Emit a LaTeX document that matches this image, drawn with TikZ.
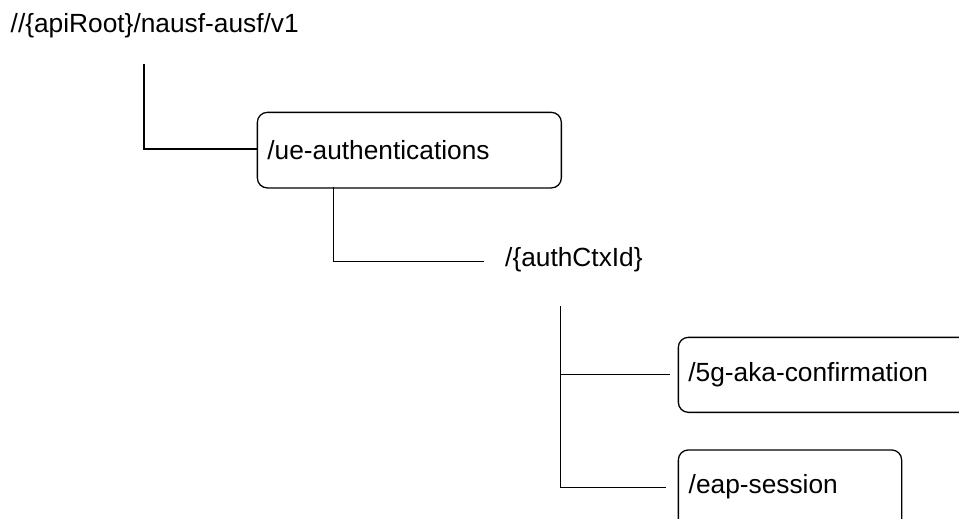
\documentclass[tikz,border=0pt]{standalone}
\usepackage{fontspec}
\setmainfont{Liberation Sans}
\begin{document}
\begin{tikzpicture}[x=1pt,y=-1pt,
  txt/.style={font=\fontsize{26.3}{30}\selectfont, inner sep=0pt, text=black},
  resbox/.style={draw=black, line width=1.3pt, rounded corners=10pt, anchor=north west,
     font=\fontsize{26.3}{30}\selectfont, inner xsep=10pt, inner ysep=0pt, align=left},
  conn/.style={draw=black, line width=1.3pt}]
\path[use as bounding box, clip] (0,0) rectangle (959,519);

\node[txt, anchor=base west] (root) at (10.5,33) {//\{apiRoot\}/nausf-ausf/v1};

\node[resbox, minimum width=304pt, minimum height=75.6pt, text width=284pt] (ue) at (256.7,111.7) {/ue-authentications};

\node[txt, anchor=base west] (ctx) at (505,266) {/\{authCtxId\}};

\node[resbox, minimum width=320pt, minimum height=75pt, text width=300pt] (aka) at (677.7,336.7) {/5g-aka-confirmation};
\node[resbox, minimum width=223.3pt, minimum height=90pt, text width=203pt, anchor=north west] (eap) at (677.7,449.3) {\raisebox{0pt}[0pt][0pt]{}};
\node[txt, anchor=base west] (eaptxt) at (688.5,493) {/eap-session};

\coordinate (r1) at (144,64);
\coordinate (ue1) at (333.3,187.3);
\coordinate (c1) at (560.7,306);

\draw[conn] (r1) |- (ue.west |- 0,149);
\draw[conn] (ue1) |- (484,261.5) coordinate (ctxend);
\draw[conn] (c1) -- (560.7,487.3) -- (666,487.3) coordinate (eapend);
\draw[conn] (560.7,374.3) -- (670,374.3) coordinate (akaend);
\end{tikzpicture}
\end{document}
